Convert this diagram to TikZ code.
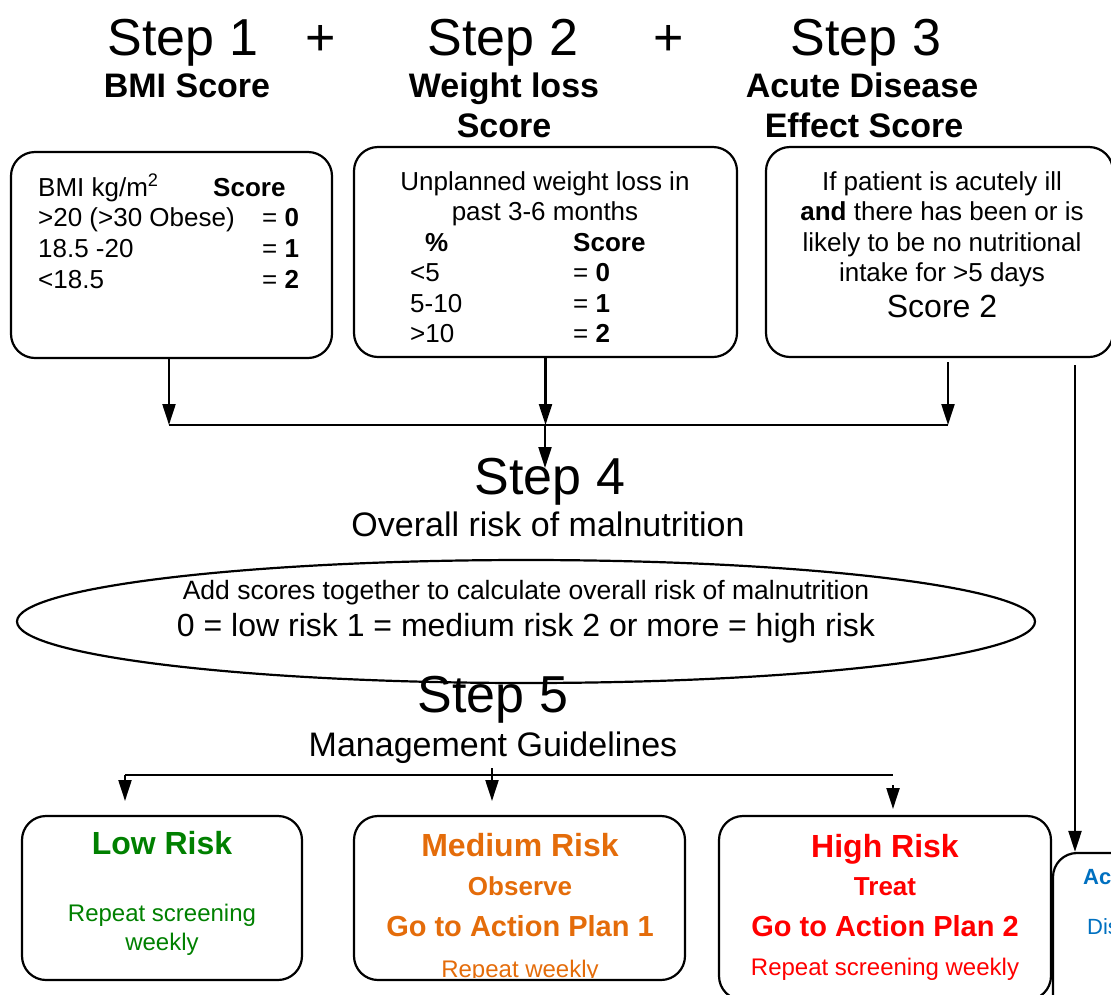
\documentclass[tikz,border=0pt]{standalone}
\usepackage{fontspec}
\setmainfont{Liberation Sans}
\usetikzlibrary{arrows.meta,shapes.geometric}
\definecolor{lowgreen}{RGB}{0,128,0}
\definecolor{medorange}{RGB}{228,108,10}
\definecolor{highred}{RGB}{255,0,0}
\definecolor{acublue}{RGB}{0,112,192}
\newcommand{\fsz}[1]{\fontsize{#1}{#1}\selectfont}
\begin{document}
\begin{tikzpicture}[x=1pt,y=-1pt,
  box/.style={draw, line width=2.2pt, rounded corners=24pt, inner sep=0pt},
  txt/.style={inner sep=0pt, anchor=base},
  txtw/.style={inner sep=0pt, anchor=base west},
  ln/.style={line width=2.2pt},
  arr/.style={line width=2.2pt, -{Triangle[length=21pt,width=13pt]}}]
\useasboundingbox (0,0) rectangle (1111,994);
\clip (0,0) rectangle (1111,994);
% headings
\node[txt, font=\fsz{52}] (s1) at (183,55) {Step 1};
\node[txt, font=\fsz{52}] (p1) at (321,55) {+};
\node[txt, font=\fsz{52}] (s2) at (503,55) {Step 2};
\node[txt, font=\fsz{52}] (p2) at (669,55) {+};
\node[txt, font=\fsz{52}] (s3) at (866,55) {Step 3};
\node[txt, font=\fsz{34}\bfseries] (h1) at (187,97) {BMI Score};
\node[txt, font=\fsz{34}\bfseries] (h2a) at (504,97) {Weight loss};
\node[txt, font=\fsz{34}\bfseries] (h2b) at (504,137) {Score};
\node[txt, font=\fsz{34}\bfseries] (h3a) at (862,97) {Acute Disease};
\node[txt, font=\fsz{34}\bfseries] (h3b) at (864,137) {Effect Score};
% boxes
\node[box, minimum width=321pt, minimum height=206pt] (b1) at (171.5,255) {};
\node[box, minimum width=383pt, minimum height=210pt] (b2) at (545.5,252) {};
\node[box, minimum width=347pt, minimum height=210pt] (b3) at (939.5,252) {};
% box 1 text
\node[txtw, font=\fsz{26}] (t11) at (38,196) {BMI kg/m\textsuperscript{2}};
\node[txtw, font=\fsz{26}\bfseries] (t12) at (213,196) {Score};
\node[txtw, font=\fsz{26}] (t13) at (38,226) {>20 (>30 Obese)};
\node[txtw, font=\fsz{26}] (t14) at (262,226) {= \textbf{0}};
\node[txtw, font=\fsz{26}] (t15) at (38,257) {18.5 -20};
\node[txtw, font=\fsz{26}] (t16) at (262,257) {= \textbf{1}};
\node[txtw, font=\fsz{26}] (t17) at (38,288) {<18.5};
\node[txtw, font=\fsz{26}] (t18) at (262,288) {= \textbf{2}};
% box 2 text
\node[txt, font=\fsz{26}] (t21) at (545,190.5) {Unplanned weight loss in};
\node[txt, font=\fsz{26}] (t22) at (545,220.5) {past 3-6 months};
\node[txtw, font=\fsz{26}\bfseries] (t23) at (425,251.5) {\%};
\node[txtw, font=\fsz{26}\bfseries] (t24) at (573,251.5) {Score};
\node[txtw, font=\fsz{26}] (t25) at (410,281.5) {<5};
\node[txtw, font=\fsz{26}] (t26) at (573,281.5) {= \textbf{0}};
\node[txtw, font=\fsz{26}] (t27) at (410,312.5) {5-10};
\node[txtw, font=\fsz{26}] (t28) at (573,312.5) {= \textbf{1}};
\node[txtw, font=\fsz{26}] (t29) at (410,342.5) {>10};
\node[txtw, font=\fsz{26}] (t2a) at (573,342.5) {= \textbf{2}};
% box 3 text
\node[txt, font=\fsz{26}] (t31) at (942,190.5) {If patient is acutely ill};
\node[txt, font=\fsz{26}] (t32) at (942,220.5) {\textbf{and} there has been or is};
\node[txt, font=\fsz{26}] (t33) at (942,251.5) {likely to be no nutritional};
\node[txt, font=\fsz{26}] (t34) at (942,281.5) {intake for >5 days};
\node[txt, font=\fsz{32}] (t35) at (942,317.5) {Score 2};
% connectors to step 4
\coordinate (j1) at (169,425);
\coordinate (j2) at (545,425);
\coordinate (j3) at (948,425);
\coordinate (c3) at (948,362);
\coordinate (s4tip) at (545,468);
\draw[ln] (j1) -- (j3);
\draw[arr] (b1.south -| j1) -- (j1);
\draw[arr] (b2.south) -- (b2.south |- j2);
\draw[arr] (c3) -- (j3);
% step 4
\node[txt, font=\fsz{52}] (s4) at (550,494) {Step 4};
\node[txt, font=\fsz{34}] (s4b) at (548,536) {Overall risk of malnutrition};
\draw[arr] (j2) -- (s4tip);
\node[draw, ellipse, line width=2.2pt, minimum width=1018pt, minimum height=123pt, inner sep=0pt] (ell) at (526,621.5) {};
\node[txt, font=\fsz{26.5}] (e1) at (526,599.5) {Add scores together to calculate overall risk of malnutrition};
\node[txt, font=\fsz{32}] (e2) at (526,636.5) {0 = low risk 1 = medium risk 2 or more = high risk};
% step 5
\node[txt, font=\fsz{52}] (s5) at (493,712) {Step 5};
\node[txt, font=\fsz{34}] (s5b) at (493,756) {Management Guidelines};
\coordinate (k1) at (125,775);
\coordinate (k3) at (893,775);
\coordinate (k1t) at (125,801);
\coordinate (k2a) at (492,768);
\coordinate (k2t) at (492,801);
\coordinate (k3a) at (893,785);
\coordinate (k3t) at (893,809);
\draw[ln] (k1) -- (k3);
\draw[arr] (k1) -- (k1t);
\draw[arr] (k2a) -- (k2t);
\draw[arr] (k3a) -- (k3t);
% result boxes
\node[box, minimum width=280pt, minimum height=164pt] (low) at (162,898) {};
\node[box, minimum width=331pt, minimum height=164pt] (med) at (519.5,898) {};
\node[box, minimum width=332pt, minimum height=184pt] (high) at (885,908) {};
\node[box, minimum width=360pt, minimum height=170pt] (rb) at (1233,938) {};
% right side connector
\coordinate (r0) at (1075,365);
\draw[arr] (r0) -- (r0 |- rb.north);
% low risk text
\node[txt, font=\fsz{32}\bfseries, text=lowgreen] (l1) at (162,854.5) {Low Risk};
\node[txt, font=\fsz{24}, text=lowgreen] (l2) at (162,921.5) {Repeat screening};
\node[txt, font=\fsz{24}, text=lowgreen] (l3) at (162,950) {weekly};
% medium risk text
\node[txt, font=\fsz{32}\bfseries, text=medorange] (m1) at (520,856) {Medium Risk};
\node[txt, font=\fsz{26}\bfseries, text=medorange] (m2) at (520,895) {Observe};
\node[txt, font=\fsz{29}\bfseries, text=medorange] (m3) at (520,936) {Go to Action Plan 1};
\begin{scope}
\clip (354,816) rectangle (685,977);
\node[txt, font=\fsz{24}, text=medorange] (m4) at (520,977) {Repeat weekly};
\end{scope}
% high risk text
\node[txt, font=\fsz{32}\bfseries, text=highred] (hr1) at (885,857) {High Risk};
\node[txt, font=\fsz{26}\bfseries, text=highred] (hr2) at (885,895) {Treat};
\node[txt, font=\fsz{29}\bfseries, text=highred] (hr3) at (885,936) {Go to Action Plan 2};
\node[txt, font=\fsz{24}, text=highred] (hr4) at (885,975) {Repeat screening weekly};
% right box text (cut off at the edge, as in the reference)
\node[txtw, font=\fsz{22}\bfseries, text=acublue] (a1) at (1083,884) {Acute};
\node[txtw, font=\fsz{22}, text=acublue] (a2) at (1087,934) {Discuss};
\end{tikzpicture}
\end{document}
